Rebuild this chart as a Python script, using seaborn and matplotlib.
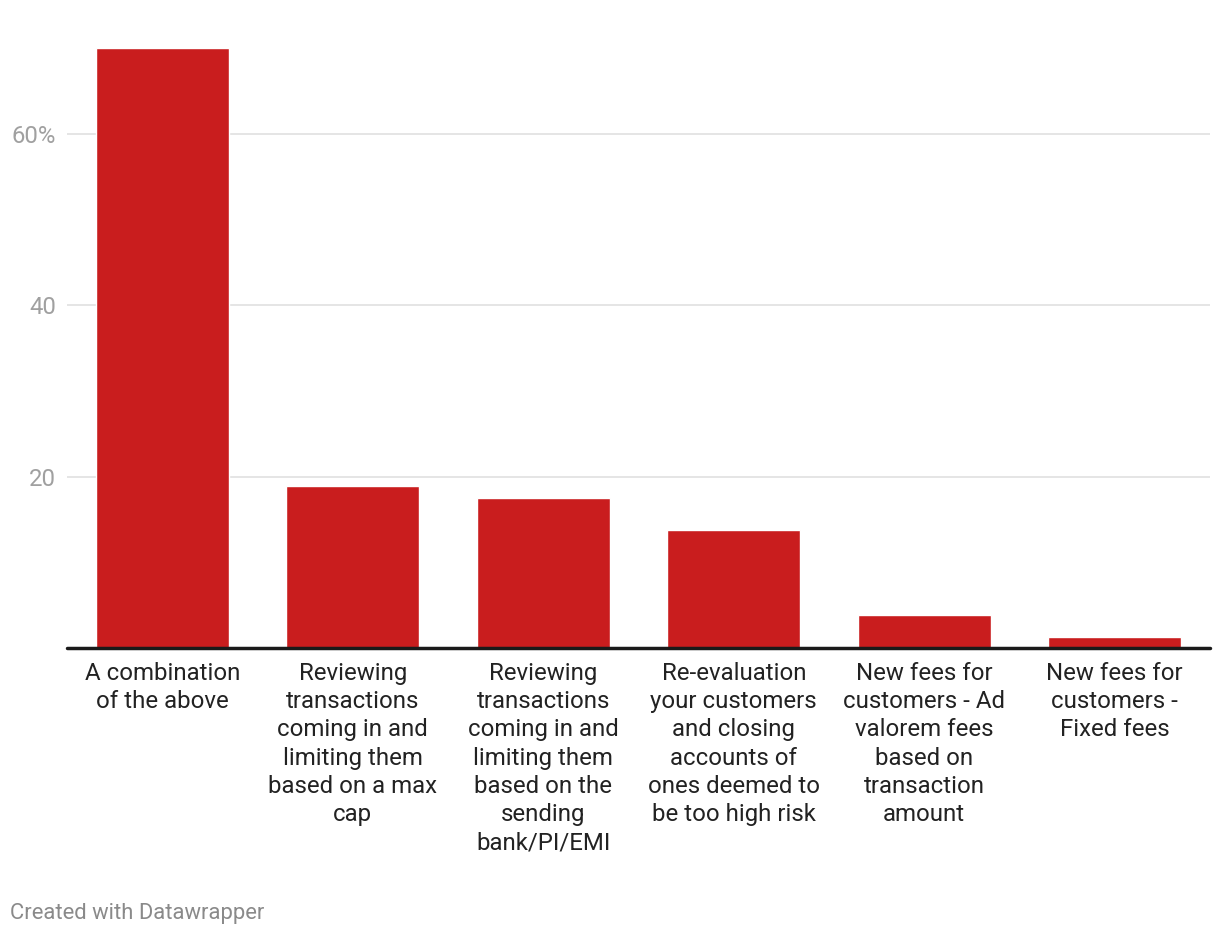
import matplotlib
matplotlib.use("Agg")
import matplotlib.pyplot as plt
import seaborn as sns
import pandas as pd

categories = [
    "A combination\nof the above",
    "Reviewing\ntransactions\ncoming in and\nlimiting them\nbased on a max\ncap",
    "Reviewing\ntransactions\ncoming in and\nlimiting them\nbased on the\nsending\nbank/PI/EMI",
    "Re-evaluation\nyour customers\nand closing\naccounts of\nones deemed to\nbe too high risk",
    "New fees for\ncustomers - Ad\nvalorem fees\nbased on\ntransaction\namount",
    "New fees for\ncustomers -\nFixed fees",
]
values = [70.0, 18.9, 17.5, 13.8, 3.8, 1.3]
yticks = [20, 40, 60]
ytick_labels = ["20", "40", "60%"]

sns.set_theme(style="white")
plt.rcParams['font.family'] = ['Roboto', 'DejaVu Sans']

df = pd.DataFrame({"cat": categories, "val": values})

fig = plt.figure(figsize=(12.2, 9.36), dpi=100)
ax = fig.add_axes([67/1220, (936-648)/936, (1210-67)/1220, 600/936])

sns.barplot(data=df, x="cat", y="val", color="#c91d1e", saturation=1,
            width=0.7, ax=ax, zorder=3)

ax.set_xlim(-0.5, len(categories) - 0.5)
ax.set_ylim(0, 70)
ax.set_yticks(yticks)
ax.set_yticklabels(ytick_labels)
for y in yticks:
    ax.axhline(y, color="#e3e3e3", lw=1.3, zorder=1)
ax.axhline(0, color="#1a1a1a", lw=2.5, zorder=4, clip_on=False)

for s in ax.spines.values():
    s.set_visible(False)
ax.set_xlabel("")
ax.set_ylabel("")
ax.tick_params(axis="y", length=0, pad=8, labelsize=17.2, labelcolor="#a0a0a0")
ax.tick_params(axis="x", length=0, pad=10, labelsize=17.3, labelcolor="#222222")
for t in ax.get_xticklabels():
    t.set_linespacing(1.29)
    t.set_ha("center")

fig.text(10/1220, 1 - 913/936, "Created with Datawrapper", fontsize=15.8,
         color="#8a8a8a", ha="left", va="center")

fig.savefig("out.png", dpi=100, facecolor="white")
